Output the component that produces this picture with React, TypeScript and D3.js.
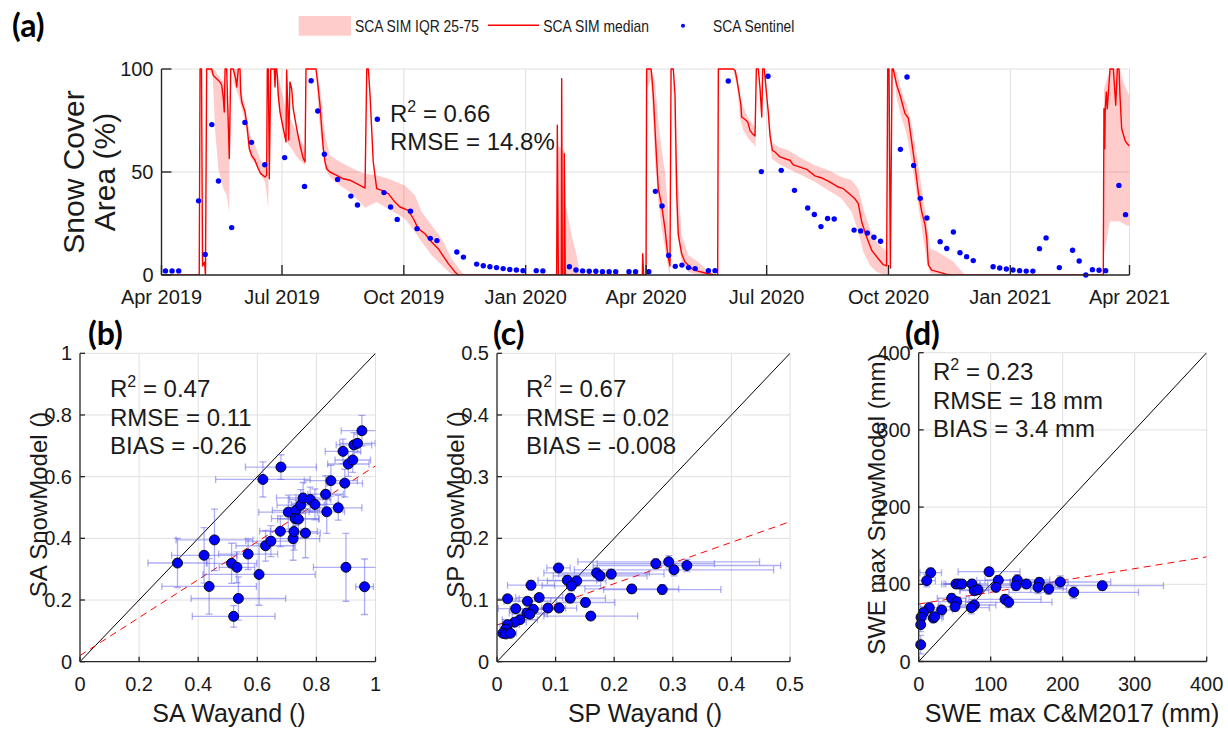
import React from "react";
import * as d3 from "d3";

const FONT = "'Liberation Sans', Arial, Helvetica, sans-serif";
const TAG_FONT = "Lato, 'Open Sans', 'DejaVu Sans', sans-serif";
const INK = "#1a1a1a";
const AXIS = "#262626";
const GRID = "#e0e0e0";

// ---------------- panel (a) data ----------------
const startUTC = Date.UTC(2019, 3, 1);
const endUTC = Date.UTC(2021, 3, 1);
const dayDate = (d: number) => new Date(startUTC + d * 86400000);

// Sentinel observations: days since 2019-04-01, SCA (%)
const sentinelDay = [3, 8, 13, 28, 33, 38, 43, 53, 63, 68, 78, 93, 108, 113, 118, 123, 133, 143, 148, 163, 168, 173, 178, 188, 193, 203, 208, 223, 228, 238, 243, 248, 253, 258, 263, 268, 273, 283, 288, 308, 313, 318, 323, 328, 333, 338, 343, 353, 358, 368, 373, 378, 383, 388, 393, 398, 403, 413, 418, 428, 453, 458, 468, 478, 488, 493, 498, 503, 508, 523, 528, 533, 538, 543, 558, 563, 568, 573, 578, 588, 593, 598, 603, 608, 613, 628, 633, 638, 643, 648, 653, 658, 663, 668, 678, 688, 693, 698, 703, 708, 713, 723, 728];
const sentinelSCA = [2, 2, 2, 36, 10, 73, 45.6, 23, 74, 64.4, 53.5, 57, 43, 94.3, 79.6, 58.6, 46.4, 38.3, 34, 75.6, 40, 33, 27, 31, 22.5, 17.8, 16.7, 11.2, 8.7, 5.3, 4.5, 4, 3.6, 3.1, 2.7, 2.4, 2.1, 2.1, 2, 4, 2.4, 2, 1.8, 1.8, 1.6, 1.6, 1.6, 1.6, 1.6, 1.6, 40.6, 33.5, 9.5, 4.2, 4.8, 3.6, 3.1, 2.1, 2.1, 94.2, 50.2, 96.5, 50.8, 41.1, 32.5, 29.4, 23.5, 27.4, 27.2, 21.8, 21.4, 20.4, 18.3, 16.4, 61, 96.1, 53.2, 37.2, 27.7, 16.2, 12.9, 20.9, 10.8, 8.9, 7, 4, 3.4, 2.9, 2.4, 2.1, 1.9, 1.9, 12.8, 18, 3.6, 12, 6.8, 0, 2.6, 2.3, 2.1, 43.5, 29.3];

// Simulated median: [day, SCA %]
const simMedian: [number, number][] = [
  [0, 0], [28.5, 0], [29.1, 100], [30.2, 100], [31, 4.4], [32.5, 6.3], [33.2, 0], [34.1, 100], [37.9, 100], [39.1, 96.9], [41.7, 95.3], [44.2, 93.7], [45.5, 92.1], [46.7, 85.6], [47.4, 79.1], [48, 100], [49.2, 100], [51.2, 56.5], [52.3, 100], [54.2, 100], [56, 95.3], [56.8, 91.3], [58, 100], [59.3, 100], [59.8, 88.8], [60.6, 84], [63.1, 79.1], [64.8, 71], [66.3, 61.3], [68.1, 58.1], [70.6, 55.7], [73.1, 51.6], [74.9, 49.2], [78.2, 47.6], [79.4, 48.4], [79.9, 100], [80.7, 100], [81.4, 46.7], [82.5, 100], [85.2, 100], [85.7, 91.3], [86.2, 100], [87, 100], [87.4, 96.9], [88.2, 87.2], [89.5, 79.1], [92, 71], [94, 64.6], [94.5, 99.5], [96.1, 65.5], [97, 93.7], [98.3, 90.4], [99.5, 80.7], [102.1, 71], [104.6, 63], [107.1, 56.5], [108.4, 54.9], [109.1, 100], [116.7, 100], [118.4, 90.4], [119.7, 82.4], [121, 71], [122.2, 61.3], [123.5, 54.9], [124.8, 51.6], [127.2, 50], [132.3, 48.4], [137.3, 46.7], [142.3, 46], [147.4, 44.3], [149.9, 43.5], [153.7, 42.2], [155, 100], [156.2, 100], [157.5, 87.2], [159.9, 54.9], [162.5, 41.9], [166.3, 41.1], [171.3, 39.5], [176.3, 35.4], [180.1, 33], [186.4, 31.4], [190.2, 27.3], [193.9, 22.5], [199, 20], [204, 16], [209, 12.8], [211.6, 10.3], [216.6, 5.5], [221.6, 1.5], [224.1, 0],
  [298.4, 0], [298.9, 72.7], [299.7, 0], [301.9, 0], [302.2, 95.3], [302.7, 0], [304, 0], [304.2, 58.9], [304.9, 0], [363.1, 0], [363.4, 10.3], [364.1, 0], [365.9, 0], [366.4, 100], [369.7, 100], [370.2, 96.9], [371.4, 87.2], [372.7, 71], [374, 54.9], [375.2, 41.9], [377.7, 33.8], [380.2, 22.5], [382.3, 9.6], [384, 4.4], [384.8, 100], [386.5, 100], [387.8, 87.2], [389.1, 38.7], [390.3, 19.3], [392.8, 10.3], [395.3, 6.3], [400.4, 3.1], [405.4, 1.8], [412.9, 0.6], [418, 0], [420, 0], [420.5, 100], [431.8, 100], [433.1, 99.4], [434.4, 95.3], [436.1, 88.8], [437.6, 82.4], [438.1, 76.7], [440.6, 75.6], [442.7, 74.3], [444.4, 70.2], [446.2, 68.6], [448.2, 67.5], [449.2, 100], [450.7, 100], [452, 90.4], [453.3, 76.7], [454, 100], [455.2, 100], [457, 87.2], [458.2, 79.1], [459.5, 67.8], [461.3, 60.5], [463.3, 59.7], [467.1, 57.3], [472.1, 56.2], [474.6, 55.7], [477.1, 53.5], [482.2, 52.4], [487.2, 51.3], [493.5, 48.1], [498.6, 47.1], [504.9, 45.1], [511.1, 42.7], [514.9, 41.9], [518.7, 39.8], [523.7, 37], [526.2, 34.6], [528.8, 25.7], [532.5, 18.4], [536.3, 12], [541.3, 7.9], [545.1, 5], [547.6, 4.4], [548.4, 100], [549.4, 100], [550.4, 3.4], [551.7, 100], [552.6, 100], [555.2, 92.2], [557.7, 87.4], [561.4, 78.5], [564, 76.1], [566.5, 64.7], [569, 53.4], [571.5, 40.4], [574.1, 30.7], [576.6, 24.3], [577.9, 17.8], [579.1, 4.9], [581.6, 2.4], [587.9, 1.3], [593, 0.3], [597.9, 0],
  [711.2, 0], [711.7, 80.7], [712.3, 61.3], [712.7, 80.7], [713.5, 88.8], [714.2, 80.7], [716.3, 100], [718.8, 100], [720.6, 82.4], [721.8, 100], [723.1, 100], [723.8, 87.2], [725.1, 71], [727.6, 65.4], [729.3, 63.7], [731, 62.6],
];

// Simulated IQR 25-75: [day, p25, p75]; null separates pieces
const simIQR: ([number, number, number] | null)[] = [
  [34.6, 100, 100], [38.7, 96.9, 100], [40.4, 71, 99.4], [42.9, 51.6, 96.9], [46.7, 41.9, 93.7], [49.2, 38.7, 87.2], [51.2, 30.7, 79.1], null,
  [54.2, 93.7, 100], [58, 87.2, 100], [60.6, 80.7, 88.8], [63.1, 74.3, 82.4], [64.8, 66.2, 75.9], [66.8, 57.3, 67.8], [70.6, 54, 63], [74.4, 49.2, 56.5], [78.2, 45.1, 52.4], [80.7, 32.2, 50], null,
  [86.5, 100, 100], [88.2, 82.4, 96.9], [90.8, 72.7, 88.8], [94.5, 64.6, 79.1], [98.3, 61.3, 74.3], [102.1, 57.3, 69.4], [105.9, 54.9, 64.6], [108.4, 53.3, 61.3], null,
  [116.7, 100, 100], [118.4, 79.1, 96.9], [121, 63, 84], [123.5, 51.6, 67.8], [127.2, 47.6, 58.1], [134.8, 43.5, 54.9], [142.3, 40.3, 52.4], [149.9, 35.4, 50], [153.7, 32.7, 49.2], [162.5, 35.4, 48.4], [171.3, 32.2, 46.7], [183.9, 27.3, 43.5], [191.4, 20.9, 38.7], [196.5, 16, 30.6], [204, 9.6, 24.1], [211.6, 4.7, 17.6], [219.2, 0.1, 7.9], [226.7, 0, 1.5], [229.2, 0, 0], null,
  [298.4, 0, 0], [298.9, 0, 63], [304.5, 0, 60], [305.2, 0, 33.8], [309.7, 0, 19.3], [313.5, 0, 9.6], [316, 0, 0], null,
  [366.4, 90, 100], [369.7, 95, 100], [372.7, 54.9, 93.7], [375.2, 35.4, 74.3], [377.7, 22.5, 61.3], [380.2, 12.8, 50], [382.7, 3.1, 30.6], [384, 0, 6.3], null,
  [386.5, 95, 100], [389.1, 22.5, 54.9], [392.8, 6.3, 19.3], [397.9, 1.5, 9.6], [405.4, 0, 6.3], [410.4, 0, 3.1], [418, 0, 0], null,
  [431.8, 100, 100], [434.4, 92.1, 98.5], [436.9, 75.9, 85.6], [439.4, 70.2, 81.6], [443.2, 66.2, 75.9], [446.9, 63.7, 72.7], [448.7, 62, 72], null,
  [458.2, 75.9, 84], [460.8, 56.5, 64.6], [465.8, 54, 62.1], [473.3, 51.6, 60.5], [483.5, 48.4, 56.5], [493.5, 45.1, 53.3], [503.5, 41.1, 50.8], [513.7, 37, 47.6], [521.2, 30.6, 46], [526.2, 20.9, 41.9], [530, 11.2, 32.2], [535, 4.7, 22.5], [540.1, 1.5, 16], [546.4, 0, 12], [548.4, 0, 11], null,
  [552.6, 100, 100], [555.2, 85.8, 98.7], [559, 76.1, 89], [562.8, 68, 82.5], [566.5, 55, 72.8], [570.3, 38.8, 58.3], [574.1, 22.7, 42.1], [577.9, 6.5, 25.9], [580.4, 0.8, 13], [587.9, 0, 10.5], [597.9, 0, 6.5], [605.5, 0, 0.8], [608, 0, 0], null,
  [711.2, 0, 0], [711.7, 10, 90], [716.3, 26, 100], [721.3, 26, 100], [723.8, 26, 100], [726.3, 25, 93.7], [728.8, 24, 90], [731, 24, 87],
];

const scaYTicks = [0, 50, 100];

// ---------------- panel (b) data ----------------
const saWayand = [0.33, 0.42, 0.455, 0.437, 0.513, 0.531, 0.536, 0.52, 0.569, 0.606, 0.628, 0.646, 0.678, 0.619, 0.68, 0.721, 0.724, 0.763, 0.705, 0.731, 0.728, 0.739, 0.747, 0.755, 0.779, 0.795, 0.831, 0.835, 0.849, 0.874, 0.896, 0.908, 0.923, 0.89, 0.927, 0.939, 0.954, 0.9, 0.963];
const saModel = [0.32, 0.345, 0.395, 0.244, 0.319, 0.306, 0.205, 0.147, 0.349, 0.283, 0.376, 0.391, 0.423, 0.591, 0.631, 0.399, 0.422, 0.417, 0.485, 0.491, 0.464, 0.462, 0.508, 0.531, 0.526, 0.51, 0.543, 0.486, 0.587, 0.499, 0.579, 0.641, 0.654, 0.682, 0.703, 0.708, 0.749, 0.306, 0.243];
const saWayandErr = [0.1, 0.11, 0.13, 0.16, 0.085, 0.06, 0.16, 0.14, 0.1, 0.19, 0.1, 0.085, 0.07, 0.16, 0.12, 0.09, 0.08, 0.05, 0.1, 0.08, 0.08, 0.07, 0.08, 0.09, 0.07, 0.08, 0.06, 0.06, 0.09, 0.08, 0.06, 0.07, 0.06, 0.06, 0.06, 0.06, 0.07, 0.11, 0.03];
const saModelErr = [0.08, 0.09, 0.1, 0.09, 0.065, 0.05, 0.07, 0.035, 0.05, 0.1, 0.05, 0.05, 0.05, 0.057, 0.04, 0.07, 0.06, 0.08, 0.055, 0.05, 0.05, 0.06, 0.05, 0.05, 0.04, 0.05, 0.06, 0.07, 0.05, 0.04, 0.045, 0.04, 0.04, 0.04, 0.04, 0.03, 0.05, 0.11, 0.09];
const saFit = [0.02, 0.615]; // intercept, slope

// ---------------- panel (c) data ----------------
const spWayand = [0.105, 0.058, 0.018, 0.052, 0.072, 0.032, 0.062, 0.051, 0.056, 0.039, 0.03, 0.018, 0.015, 0.01, 0.015, 0.023, 0.087, 0.106, 0.12, 0.136, 0.127, 0.125, 0.151, 0.16, 0.17, 0.176, 0.195, 0.23, 0.282, 0.271, 0.293, 0.302, 0.324];
const spModel = [0.152, 0.124, 0.102, 0.098, 0.104, 0.086, 0.085, 0.079, 0.077, 0.068, 0.064, 0.06, 0.053, 0.046, 0.045, 0.046, 0.087, 0.087, 0.132, 0.131, 0.123, 0.103, 0.096, 0.074, 0.144, 0.139, 0.142, 0.118, 0.117, 0.159, 0.162, 0.149, 0.156];
const spWayandErr = [0.02, 0.04, 0.02, 0.04, 0.04, 0.03, 0.04, 0.03, 0.03, 0.03, 0.02, 0.02, 0.01, 0.01, 0.01, 0.01, 0.03, 0.03, 0.05, 0.05, 0.05, 0.06, 0.05, 0.08, 0.09, 0.08, 0.09, 0.08, 0.1, 0.1, 0.155, 0.17, 0.16];
const spModelErr = [0.006, 0.008, 0.005, 0.006, 0.006, 0.005, 0.006, 0.005, 0.005, 0.005, 0.005, 0.005, 0.004, 0.004, 0.004, 0.004, 0.006, 0.006, 0.008, 0.008, 0.008, 0.007, 0.007, 0.006, 0.008, 0.008, 0.008, 0.007, 0.008, 0.008, 0.01, 0.01, 0.01];
const spFit = [0.0595, 0.335];

// ---------------- panel (d) data ----------------
const sweCM = [16.7, 11.1, 97.7, 110.6, 107.4, 51.8, 55.6, 60.1, 74, 77.2, 82.4, 45.8, 52.8, 50.4, 77.2, 73.1, 119.9, 125, 137, 135.2, 149.5, 167.5, 165.7, 180.6, 196.7, 215.3, 255, 14.7, 6.4, 3.2, 2.8, 2.8, 20.3, 31.9, 22.2];
const sweModel = [115, 104.7, 116.3, 105.2, 96.1, 100.4, 100.4, 100.4, 100.4, 91.7, 93, 81.9, 77.5, 71, 73.2, 69.7, 80.6, 76.7, 105.6, 98.2, 100.4, 102.6, 96.1, 93.9, 103, 89.6, 98.2, 69.7, 63.2, 57.2, 47.7, 21.8, 56.3, 66.7, 58];
const sweCMErr = [15, 12, 43, 30, 25, 20, 18, 25, 22, 20, 25, 20, 25, 20, 30, 25, 50, 60, 45, 50, 40, 40, 35, 25, 70, 90, 85, 12, 6, 3, 3, 3, 12, 15, 12];
const sweModelErr = [6, 8, 5, 6, 6, 5, 5, 5, 6, 6, 6, 6, 6, 6, 7, 8, 6, 7, 7, 6, 6, 6, 8, 7, 8, 8, 6, 7, 8, 8, 9, 12, 6, 6, 6];
const sweFit = [74.4, 0.153];

// ---------------- components ----------------
function Stats({ x, y, lines }: { x: number; y: number; lines: [string, string, string] }) {
  return (
    <g fontFamily={FONT} fontSize={24} fill={INK}>
      <text x={x} y={y}>
        <tspan>R</tspan>
        <tspan dy={-10} fontSize={16}>2</tspan>
        <tspan dy={10}>{" = " + lines[0]}</tspan>
      </text>
      <text x={x} y={y + 28.5}>{"RMSE = " + lines[1]}</text>
      <text x={x} y={y + 57}>{"BIAS = " + lines[2]}</text>
    </g>
  );
}

type ScatterProps = {
  id: string;
  left: number; right: number; top: number; bottom: number;
  max: number; step: number; fmt: (v: number) => string;
  xs: number[]; ys: number[]; xe: number[]; ye: number[];
  fit: number[];
  stats: [string, string, string]; statsX: number; statsY: number;
  xLabel: string; xLabelX: number; yLabel: string; yLabelX: number;
  tag: string; tagX: number;
};

function Scatter(p: ScatterProps) {
  const x = d3.scaleLinear().domain([0, p.max]).range([p.left, p.right]);
  const y = d3.scaleLinear().domain([0, p.max]).range([p.bottom, p.top]);
  const ticks = d3.range(0, p.max + p.step / 2, p.step);
  const cap = 3.5;
  const ebColor = "rgba(95,95,235,0.5)";
  return (
    <g>
      <defs>
        <clipPath id={p.id}>
          <rect x={p.left} y={p.top} width={p.right - p.left} height={p.bottom - p.top} />
        </clipPath>
      </defs>
      {ticks.map((t, i) => (
        <g key={"g" + i}>
          {i > 0 && <line x1={x(t)} x2={x(t)} y1={p.top} y2={p.bottom} stroke={GRID} strokeWidth={1} />}
          {i > 0 && <line x1={p.left} x2={p.right} y1={y(t)} y2={y(t)} stroke={GRID} strokeWidth={1} />}
        </g>
      ))}
      <g clipPath={`url(#${p.id})`}>
        <line x1={x(0)} y1={y(0)} x2={x(p.max)} y2={y(p.max)} stroke="#000" strokeWidth={1} />
        <line x1={x(0)} y1={y(p.fit[0])} x2={x(p.max)} y2={y(p.fit[0] + p.fit[1] * p.max)} stroke="#ff0000" strokeWidth={1} strokeDasharray="7,5" />
        {p.xs.map((v, i) => {
          const cx = x(v), cy = y(p.ys[i]);
          const xl = x(v - p.xe[i]), xr = x(v + p.xe[i]);
          const yt = y(p.ys[i] + p.ye[i]), yb = y(p.ys[i] - p.ye[i]);
          return (
            <g key={"e" + i} stroke={ebColor} strokeWidth={1.3}>
              <line x1={xl} x2={xr} y1={cy} y2={cy} />
              <line x1={xl} x2={xl} y1={cy - cap} y2={cy + cap} />
              <line x1={xr} x2={xr} y1={cy - cap} y2={cy + cap} />
              <line x1={cx} x2={cx} y1={yt} y2={yb} />
              <line x1={cx - cap} x2={cx + cap} y1={yt} y2={yt} />
              <line x1={cx - cap} x2={cx + cap} y1={yb} y2={yb} />
            </g>
          );
        })}
      </g>
      {p.xs.map((v, i) => (
        <circle key={"p" + i} cx={x(v)} cy={y(p.ys[i])} r={5} fill="#0000ff" stroke="#000" strokeWidth={0.9} />
      ))}
      <line x1={p.left} x2={p.left} y1={p.top} y2={p.bottom} stroke={AXIS} strokeWidth={1.3} />
      <line x1={p.left} x2={p.right} y1={p.bottom} y2={p.bottom} stroke={AXIS} strokeWidth={1.3} />
      {ticks.map((t, i) => (
        <g key={"t" + i}>
          <line x1={x(t)} x2={x(t)} y1={p.bottom} y2={p.bottom - 5} stroke={AXIS} strokeWidth={1.3} />
          <line x1={p.left} x2={p.left + 5} y1={y(t)} y2={y(t)} stroke={AXIS} strokeWidth={1.3} />
          <text x={x(t)} y={p.bottom + 29} textAnchor="middle" fontFamily={FONT} fontSize={20} fill={INK}>{p.fmt(t)}</text>
          <text x={p.left - 8} y={y(t) + 7} textAnchor="end" fontFamily={FONT} fontSize={20} fill={INK}>{p.fmt(t)}</text>
        </g>
      ))}
      <Stats x={p.statsX} y={p.statsY} lines={p.stats} />
      <text x={p.xLabelX} y={722} textAnchor="middle" fontFamily={FONT} fontSize={25} fill={INK}>{p.xLabel}</text>
      <text transform={`translate(${p.yLabelX},${(p.top + p.bottom) / 2 - 3}) rotate(-90)`} textAnchor="middle" fontFamily={FONT} fontSize={24} fill={INK}>{p.yLabel}</text>
      <text x={p.tagX} y={345} fontFamily={TAG_FONT} fontWeight="bold" fontSize={32} fill="#000">{p.tag}</text>
    </g>
  );
}

function TimePanel() {
  const left = 161.5, right = 1129.5, top = 69, bottom = 275;
  const x = d3.scaleUtc().domain([new Date(startUTC), new Date(endUTC)]).range([left, right]);
  const y = d3.scaleLinear().domain([0, 100]).range([bottom, top]);
  const monthTicks = d3.utcMonth.every(3)!.range(new Date(startUTC), new Date(endUTC + 1));
  const fmt = d3.utcFormat("%b %Y");
  const line = d3.line<[number, number]>().x((d) => x(dayDate(d[0]))).y((d) => y(d[1]));
  const area = d3
    .area<[number, number, number] | null>()
    .defined((d) => d !== null)
    .x((d) => x(dayDate(d![0])))
    .y0((d) => y(d![1]))
    .y1((d) => y(d![2]));
  return (
    <g>
      <defs>
        <clipPath id="clipA">
          <rect x={left} y={top - 1} width={right - left} height={bottom - top + 1} />
        </clipPath>
      </defs>
      {monthTicks.map((t, i) => (
        <line key={"vg" + i} x1={x(t)} x2={x(t)} y1={top} y2={bottom} stroke={GRID} strokeWidth={1} />
      ))}
      {scaYTicks.slice(1).map((t, i) => (
        <line key={"hg" + i} x1={left} x2={right} y1={y(t)} y2={y(t)} stroke={GRID} strokeWidth={1} />
      ))}
      <g clipPath="url(#clipA)">
        <path d={area(simIQR) || ""} fill="#ff0000" fillOpacity={0.2} stroke="none" />
        <path d={line(simMedian) || ""} fill="none" stroke="#ff0000" strokeWidth={1.4} strokeLinejoin="round" />
      </g>
      {sentinelDay.map((d, i) => (
        <circle key={"s" + i} cx={x(dayDate(d))} cy={y(sentinelSCA[i])} r={2.7} fill="#0000ff" />
      ))}
      <line x1={left} x2={left} y1={top} y2={bottom} stroke={AXIS} strokeWidth={1.4} />
      <line x1={left} x2={right} y1={bottom} y2={bottom} stroke={AXIS} strokeWidth={1.4} />
      {monthTicks.map((t, i) => (
        <g key={"xt" + i}>
          <line x1={x(t)} x2={x(t)} y1={bottom} y2={bottom - 10} stroke={AXIS} strokeWidth={1.4} />
          <text x={x(t)} y={bottom + 29} textAnchor="middle" fontFamily={FONT} fontSize={20} fill={INK}>{fmt(t)}</text>
        </g>
      ))}
      {scaYTicks.map((t, i) => (
        <g key={"yt" + i}>
          <line x1={left} x2={left + 10} y1={y(t)} y2={y(t)} stroke={AXIS} strokeWidth={1.4} />
          <text x={left - 8} y={y(t) + 7} textAnchor="end" fontFamily={FONT} fontSize={20} fill={INK}>{t}</text>
        </g>
      ))}
      <text transform={`translate(84,${(top + bottom) / 2}) rotate(-90)`} textAnchor="middle" fontFamily={FONT} fontSize={30} fill={INK}>Snow Cover</text>
      <text transform={`translate(115,${(top + bottom) / 2}) rotate(-90)`} textAnchor="middle" fontFamily={FONT} fontSize={30} fill={INK}>Area (%)</text>
      <g fontFamily={FONT} fontSize={24} fill={INK}>
        <text x={390} y={122}>
          <tspan>R</tspan>
          <tspan dy={-10} fontSize={16}>2</tspan>
          <tspan dy={10}> = 0.66</tspan>
        </text>
        <text x={390} y={150}>RMSE = 14.8%</text>
      </g>
      <text x={12} y={37} fontFamily={TAG_FONT} fontWeight="bold" fontSize={32} fill="#000">(a)</text>
      {/* legend */}
      <g fontFamily={FONT} fontSize={17} fill={INK}>
        <rect x={298.7} y={16} width={52.3} height={19.7} fill="#ff0000" fillOpacity={0.2} />
        <text x={355} y={32} textLength={124} lengthAdjust="spacingAndGlyphs">SCA SIM IQR 25-75</text>
        <line x1={488} x2={539} y1={25.3} y2={25.3} stroke="#ff0000" strokeWidth={1.4} />
        <text x={543.3} y={32} textLength={105.7} lengthAdjust="spacingAndGlyphs">SCA SIM median</text>
        <circle cx={683} cy={25.7} r={2} fill="#0000ff" />
        <text x={713} y={32} textLength={81.3} lengthAdjust="spacingAndGlyphs">SCA Sentinel</text>
      </g>
    </g>
  );
}

const fmtDec = (v: number) => (Math.abs(v) < 1e-9 ? "0" : String(+v.toFixed(1)));
const fmtInt = (v: number) => String(Math.round(v));

export default function App() {
  return (
    <svg width={1228} height={734} style={{ position: "absolute", left: 0, top: 0, background: "#fff" }}>
      <rect x={0} y={0} width={1228} height={734} fill="#fff" />
      <TimePanel />
      <Scatter
        id="clipB" left={80} right={375.5} top={353.3} bottom={661.7} max={1} step={0.2} fmt={fmtDec}
        xs={saWayand} ys={saModel} xe={saWayandErr} ye={saModelErr} fit={saFit}
        stats={["0.47", "0.11", "-0.26"]} statsX={110} statsY={397}
        xLabel="SA Wayand ()" xLabelX={229} yLabel="SA SnowModel ()" yLabelX={47} tag="(b)" tagX={88}
      />
      <Scatter
        id="clipC" left={497} right={790} top={353.3} bottom={661.7} max={0.5} step={0.1} fmt={fmtDec}
        xs={spWayand} ys={spModel} xe={spWayandErr} ye={spModelErr} fit={spFit}
        stats={["0.67", "0.02", "-0.008"]} statsX={526} statsY={397}
        xLabel="SP Wayand ()" xLabelX={645} yLabel="SP SnowModel ()" yLabelX={464} tag="(c)" tagX={493}
      />
      <Scatter
        id="clipD" left={918.7} right={1206.7} top={352.7} bottom={661.5} max={400} step={100} fmt={fmtInt}
        xs={sweCM} ys={sweModel} xe={sweCMErr} ye={sweModelErr} fit={sweFit}
        stats={["0.23", "18 mm", "3.4 mm"]} statsX={933} statsY={380}
        xLabel="SWE max C&M2017 (mm)" xLabelX={1072} yLabel="SWE max SnowModel (mm)" yLabelX={885} tag="(d)" tagX={905}
      />
    </svg>
  );
}
